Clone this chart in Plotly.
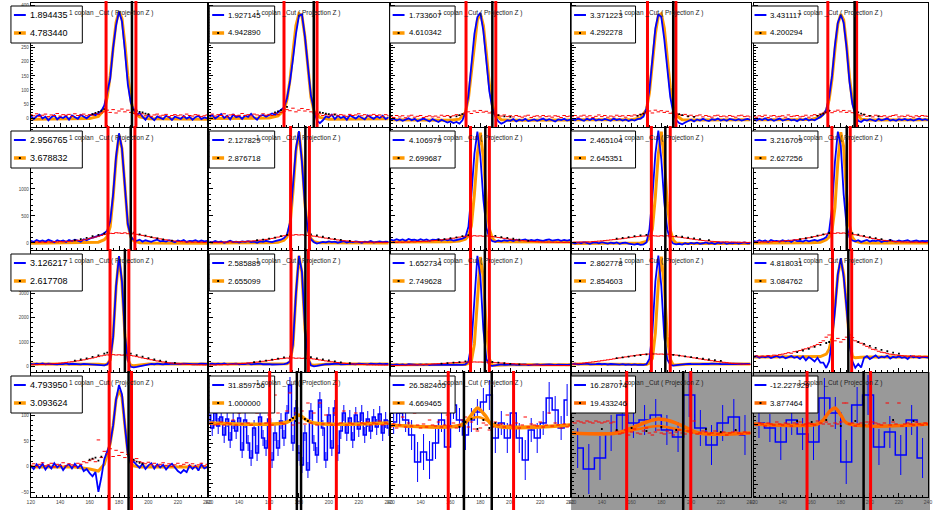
import plotly.graph_objects as go

W, H = 934, 510
FONT = "Liberation Sans, Arial, sans-serif"
TITLE = "1 coplan _Cut ( Projection Z )"

# ---------------- data ----------------
X = list(range(120, 241, 2))
OX = [120, 150, 160, 166, 170, 172, 174, 176, 178, 180, 182, 184, 186, 188, 190, 194, 200, 240]
X_TICK0, X_DTICK = 120, 20

LEG_TOP = ["1.894435", "1.927145", "1.733607", "3.371223", "3.431117",
           "2.956765", "2.127829", "4.106979", "2.465104", "3.216709",
           "3.126217", "2.585889", "1.652734", "2.862778", "4.818031",
           "4.793950", "31.859756", "26.582405", "16.287074", "-12.227929"]
LEG_BOT = ["4.783440", "4.942890", "4.610342", "4.292278", "4.200294",
           "3.678832", "2.876718", "2.699687", "2.645351", "2.627256",
           "2.617708", "2.655099", "2.749628", "2.854603", "3.084762",
           "3.093624", "1.000000", "4.669465", "19.433246", "3.877464"]

RED_LINES = [[171.2, 191.5], [170.0, 192.1], [170.4, 190.3], [170.7, 189.8], [171.1, 190.9],
             [172.5, 190.8], [174.4, 187.0], [173.4, 186.0], [173.3, 186.0], [173.9, 186.5],
             [173.9, 186.7], [174.7, 186.3], [173.4, 186.0], [173.3, 186.0], [174.3, 187.5],
             [173.3, 188.5], [160.4, 205.0], [158.5, 202.2], [156.7, 199.8], [156.8, 200.5]]
BLACK_LINES = [[188.8], [189.9], [188.0], [188.0], [189.5],
               [188.0], [184.3], [183.3], [182.7], [184.1],
               [184.0], [184.3], [183.0], [182.7], [185.2],
               [186.5], [178.6, 181.4], [169.0, 187.6], [194.7], [195.7]]

# ---- row 1 ----
blue_r1c1 = [8,-4,6,12,-2, 5,-8,3,10,-5, 4,0,7,-6,9, 2,-3,11,6,-1, 8,14,10,18,25,
             45,95,140,250,330, 380,345,240,120,55, 30,12,18,5,-6, 10,2,-8,6,0,
             -4,8,3,-7,5, 1,-3,7,-2,4, -6,3,8,-4,2, -1]
orange_r1c1 = [-4,-4,-2,6,30,75,150,250,340,380,355,265,150,65,22,4,-3,-4]
red_r1c1 = [12,8,15,6,10, 14,5,11,9,16, 7,12,10,13,6, 15,9,11,14,8, 12,10,16,13,18,
            22,28,20,30,18, 25,32,22,28,20, 16,14,10,15,8, 12,6,11,14,7,
            10,13,5,9,12, 8,11,6,14,9, 7,12,10,5,8, 11]
blackx_r1c1 = [162,164,166,168,170,190,192,194,196,198,200]
blacky_r1c1 = [14,18,22,26,32,30,26,22,20,16,14]

blue_r1c2 = [4,10,-2,6,14, 0,8,-5,12,3, 7,-3,9,4,15, 2,-6,8,11,5, 10,16,12,20,28,
             38,70,130,210,300, 365,370,290,170,80, 30,-10,-18,-8,6, 2,12,-4,8,0,
             5,-6,10,3,-2, 7,1,-5,9,4, -3,6,0,8,-4, 3]
orange_r1c2 = [-2,-2,0,8,28,65,135,235,330,372,365,290,175,75,25,2,-4,-3]
red_r1c2 = [10,14,7,12,9, 15,6,11,13,8, 10,16,9,12,7, 14,11,8,15,10, 13,9,17,12,20,
            24,30,26,35,22, 28,34,25,30,22, 18,12,15,9,13, 7,11,14,8,12,
            10,6,13,9,11, 15,8,12,7,10, 13,9,11,6,12, 8]
blackx_r1c2 = [164,166,168,170,172,192,194,196,198,200,204]
blacky_r1c2 = [20,24,28,34,40,22,20,18,16,14,12]

blue_r1c3 = [-6,-2,-9,-4,-10, -5,-1,-8,-3,-11, -6,-2,-7,-12,-4, -8,-14,-6,-10,-16, -12,-18,-14,-20,-8,
             20,80,190,300,360, 375,310,200,95,35, 5,-12,-20,-15,-8, -10,-4,-12,-6,-9,
             -3,-11,-7,-5,-10, -6,-2,-9,-4,-8, -12,-5,-7,-3,-9, -6]
orange_r1c3 = [-6,-7,-8,-4,20,70,160,270,350,372,330,230,120,45,12,-6,-8,-7]
red_r1c3 = [6,2,9,4,8, 1,7,10,3,6, 9,2,5,8,4, 7,3,10,6,9, 5,8,12,9,14,
            18,22,16,25,20, 27,21,24,18,22, 14,10,7,11,5, 8,4,9,6,3,
            7,10,2,6,8, 4,9,5,7,3, 8,6,2,9,5, 7]
blackx_r1c3 = [160,164,166,168,188,190,192,196,200]
blacky_r1c3 = [2,6,10,14,20,14,10,6,4]

blue_r1c4 = [-4,-8,-2,-6,-10, -3,-7,-1,-9,-5, -8,-3,-6,-10,-2, -7,-4,-9,-5,-11, -6,-9,-4,-2,5,
             35,100,210,320,370, 360,280,170,75,20, -8,-18,-22,-16,-10, -6,-12,-5,-9,-3,
             -8,-11,-4,-7,-2, -9,-5,-10,-3,-6, -8,-4,-9,-6,-3, -7]
orange_r1c4 = [-6,-6,-6,0,30,90,185,300,365,372,320,215,110,40,10,-6,-7,-6]
red_r1c4 = [5,9,3,7,10, 4,8,2,6,11, 5,9,3,7,4, 10,6,8,3,9, 7,11,8,13,16,
            20,25,18,28,22, 26,20,24,17,21, 15,12,9,13,7, 10,5,8,11,4,
            9,6,3,8,10, 5,7,4,9,6, 3,8,10,5,7, 4]
blackx_r1c4 = [164,166,168,170,190,192,194,198,202]
blacky_r1c4 = [8,12,16,22,18,14,10,6,4]

blue_r1c5 = [-5,-9,-3,-7,-1, -8,-4,-10,-6,-2, -9,-5,-3,-8,-6, -11,-4,-7,-2,-9, -5,-8,-3,4,12,
             30,75,150,260,340, 368,340,250,130,50, 12,-10,-14,-6,-9, -4,-7,-11,-3,-8,
             -5,-2,-9,-6,-10, -4,-7,-3,-8,-5, -9,-6,-2,-7,-4, -8]
orange_r1c5 = [-6,-6,-5,4,25,65,140,245,335,370,350,260,145,60,18,-4,-7,-6]
red_r1c5 = [6,3,8,5,10, 2,7,9,4,6, 8,3,11,5,7, 9,4,6,10,3, 8,12,9,14,17,
            21,26,19,24,28, 22,27,20,25,19, 16,11,8,13,6, 9,4,10,7,5,
            8,3,6,9,11, 4,7,5,10,6, 3,8,5,9,7, 6]
blackx_r1c5 = [164,166,168,170,172,192,194,196,200,206]
blacky_r1c5 = [8,12,16,20,26,20,16,12,8,6]

# ---- row 2 ----
blue_r2c1 = [40,20,55,30,45, 25,60,35,15,50, 30,45,20,55,35, 60,40,25,70,50, 80,95,110,130,150,
             180,230,400,900,1600, 2030,1750,950,350,120, 55,40,60,25,50, 35,20,45,60,30,
             40,25,50,35,15, 45,30,55,20,40, 35,50,25,45,30, 40]
orange_r2c1 = [-5,0,5,15,60,120,300,850,1550,2000,1750,950,350,110,40,5,0,-5]
red_r2c1 = [15,8,20,12,18, 10,22,14,25,18, 28,20,32,26,38, 42,50,45,58,70, 85,95,110,125,140,
            155,170,180,175,190, 185,178,188,172,180, 168,160,150,140,128, 118,105,95,88,76,
            65,58,50,42,36, 30,26,22,18,20, 14,18,12,16,10, 14]
blackx_r2c1 = [150,154,158,162,166,170,190,194,198,202,206,210,216]
blacky_r2c1 = [50,70,95,125,150,175,190,160,135,110,85,65,45]

blue_r2c2 = [25,10,35,15,30, 5,20,40,15,25, 10,30,20,35,15, 25,5,30,20,40, 25,15,35,45,60,
             90,150,380,1000,1750, 2070,1500,700,230,70, 15,-10,5,20,10, 30,15,25,5,20,
             35,10,25,15,30, 20,5,25,15,35, 10,20,30,15,25, 20]
orange_r2c2 = [0,0,5,15,50,110,330,950,1700,2050,1550,720,240,80,25,2,0,0]
red_r2c2 = [8,14,10,16,12, 18,14,22,16,24, 20,28,24,32,36, 40,46,52,58,66, 72,84,96,108,122,
            134,142,150,145,155, 148,152,146,140,135, 126,118,108,98,90, 80,72,64,56,48,
            42,38,32,28,24, 20,22,16,18,14, 12,16,10,14,12, 10]
blackx_r2c2 = [152,156,160,164,168,172,188,192,196,200,204,208,214]
blacky_r2c2 = [50,62,80,100,125,150,160,140,115,95,75,58,40]

blue_r2c3 = [60,45,70,50,65, 40,75,55,60,45, 70,50,65,40,60, 55,70,45,65,50, 60,45,55,70,80,
             110,300,900,1650,2060, 1600,800,280,90,35, 20,45,30,50,40, 55,35,60,45,50,
             65,40,55,45,60, 50,40,55,65,45, 50,60,40,55,45, 55]
orange_r2c3 = [20,20,25,35,70,130,320,900,1650,2040,1580,780,260,80,30,22,20,20]
red_r2c3 = [10,16,12,18,14, 20,16,24,20,28, 26,32,30,38,42, 46,52,58,64,72, 80,88,98,108,116,
            124,130,126,135,128, 132,125,130,122,118, 110,102,94,86,78, 70,62,56,50,44,
            38,34,30,26,22, 20,18,16,18,14, 16,12,14,10,12, 10]
blackx_r2c3 = [152,156,160,164,168,172,186,190,194,198,202,206,212]
blacky_r2c3 = [60,72,88,105,125,145,150,130,110,95,78,62,45]

blue_r2c4 = [5,-10,10,-5,15, 0,-15,5,10,-5, 15,0,-10,5,-5, 10,-15,0,5,-10, -20,-30,-15,-35,-25,
             10,250,850,1650,2080, 1550,750,250,60,-10, -25,-15,-30,-5,-20, 0,-10,5,-15,-5,
             10,-10,0,-20,5, -5,10,-15,0,-5, 5,-10,0,10,-5, 0]
orange_r2c4 = [-10,-10,-8,0,30,90,260,860,1650,2060,1540,740,240,55,0,-10,-10,-10]
red_r2c4 = [12,18,14,20,16, 22,20,26,30,34, 38,44,50,56,62, 68,74,80,88,96, 104,112,118,124,128,
            132,128,136,130,126, 134,128,132,124,120, 114,108,100,92,84, 76,68,60,52,46,
            40,36,30,26,24, 20,18,22,16,18, 14,16,12,14,10, 12]
blackx_r2c4 = [150,154,158,162,166,170,186,190,194,198,202,206,212]
blacky_r2c4 = [80,95,110,125,140,150,145,130,115,100,85,70,52]

blue_r2c5 = [40,25,50,30,45, 20,55,35,40,25, 50,30,45,20,55, 35,40,25,50,30, 45,55,40,60,75,
             110,220,650,1500,2060, 1800,900,320,100,45, 30,50,20,40,55, 25,45,35,50,20,
             40,30,55,35,25, 45,30,40,50,25, 35,45,30,40,35, 40]
orange_r2c5 = [0,0,5,15,60,110,230,660,1500,2050,1780,900,320,100,35,5,0,0]
red_r2c5 = [12,18,14,20,16, 24,20,28,26,34, 32,40,44,50,56, 62,70,78,86,96, 106,118,130,142,155,
            166,175,182,178,188, 180,185,176,170,162, 152,142,130,118,106, 94,84,74,64,56,
            48,42,36,30,26, 22,20,18,16,18, 14,16,12,14,10, 12]
blackx_r2c5 = [152,156,160,164,168,172,188,192,196,200,204,208,214]
blacky_r2c5 = [70,88,110,135,160,185,180,155,130,108,88,70,50]

# ---- row 3 ----
blue_r3c1 = [100,80,110,90,120, 85,105,95,115,80, 100,90,120,85,105, 95,110,80,100,90, 70,60,45,50,30,
             40,80,250,1200,3300, 4540,3500,1300,250,-20, -40,-20,10,40,70, 90,100,85,110,95,
             80,105,90,115,100, 85,95,110,90,100, 85,105,95,110,90, 100]
orange_r3c1 = [95,95,95,80,60,90,260,1250,3250,4500,3450,1300,280,40,20,60,90,95]
red_r3c1 = [60,70,65,80,75, 90,85,100,110,120, 130,145,160,175,190, 205,225,245,265,290, 315,340,370,400,430,
            455,470,460,480,465, 475,460,470,455,445, 425,400,375,345,320, 295,270,245,220,200,
            180,160,145,130,115, 105,95,90,80,75, 70,65,60,62,55, 58]
blackx_r3c1 = [150,154,158,162,166,170,172,188,192,196,200,204,208,212,218]
blacky_r3c1 = [230,280,330,390,450,520,560,520,460,400,340,280,230,190,140]

blue_r3c2 = [95,110,85,105,90, 115,80,100,95,110, 85,105,90,120,80, 100,95,110,85,100, 90,75,80,60,70,
             90,120,200,900,3000, 4550,3900,1600,350,40, 0,20,50,70,90, 85,100,95,110,80,
             100,90,105,95,85, 110,90,100,80,105, 95,90,110,85,100, 95]
orange_r3c2 = [90,90,90,85,80,100,180,850,2950,4550,3850,1550,330,60,40,70,90,90]
red_r3c2 = [50,58,55,65,62, 72,70,82,88,96, 104,114,124,136,148, 160,174,190,206,224, 242,260,280,298,315,
            328,340,332,345,330, 338,328,335,322,315, 300,282,262,242,222, 204,186,170,154,140,
            128,116,106,96,88, 82,76,70,66,62, 58,56,52,55,50, 52]
blackx_r3c2 = [150,154,158,162,166,170,174,188,192,196,200,204,208,214]
blacky_r3c2 = [170,200,235,275,320,365,400,380,330,285,240,200,165,125]

blue_r3c3 = [70,55,80,60,75, 50,85,65,70,55, 80,60,75,50,70, 65,80,55,75,60, 70,55,65,50,60,
             80,200,900,2800,4550, 3700,1500,300,40,20, 45,60,75,55,70, 65,80,55,70,60,
             75,50,70,65,80, 55,70,60,75,65, 50,70,60,75,55, 65]
orange_r3c3 = [60,60,60,60,75,130,220,920,2850,4500,3650,1480,300,50,40,55,60,60]
red_r3c3 = [30,36,32,40,38, 46,44,52,56,62, 66,72,78,84,92, 98,106,114,122,132, 140,148,156,162,168,
            172,178,170,180,174, 176,170,172,166,160, 152,144,136,128,120, 110,102,94,86,78,
            72,66,60,56,50, 46,42,40,36,38, 34,36,32,34,30, 32]
blackx_r3c3 = [154,158,162,166,170,188,192,196,200,206]
blacky_r3c3 = [110,130,150,170,200,180,150,125,100,80]

blue_r3c4 = [90,105,85,100,95, 110,80,100,90,105, 85,100,75,95,80, 90,70,85,65,80, 60,75,55,70,60,
             90,300,1400,3500,4560, 3300,1200,280,60,30, 50,70,90,80,100, 95,85,105,90,100,
             85,95,110,90,100, 95,85,100,90,105, 95,100,85,95,100, 90]
orange_r3c4 = [90,85,80,70,75,130,320,1380,3450,4520,3300,1220,290,60,50,70,90,90]
red_r3c4 = [80,95,105,120,135, 150,165,180,195,212, 230,248,266,285,305, 325,345,365,385,405, 425,445,462,478,490,
            500,505,498,510,500, 505,495,500,488,478, 462,445,425,405,385, 365,345,325,305,285,
            265,248,230,212,195, 180,165,150,135,120, 110,100,92,85,80, 75]
blackx_r3c4 = [150,154,158,162,166,170,174,188,192,196,200,204,208,212,216,220]
blacky_r3c4 = [340,370,400,430,460,490,520,470,440,410,380,345,310,280,250,220]

blue_r3c5 = [380,420,350,400,370, 410,340,390,430,360, 400,330,380,420,350, 390,300,410,250,380, 300,200,350,150,150,
             -70,200,1100,2300,3800, 4460,3700,2400,900,200, -60,100,-50,350,420, 300,380,450,340,400,
             370,430,320,390,360, 410,350,380,300,420, 370,400,340,390,380, 360]
orange_r3c5 = [380,380,390,400,500,700,1200,2400,3750,4400,3800,2450,1050,400,350,370,380,380]
red_r3c5 = [400,430,390,420,410, 440,420,460,450,480, 500,520,560,540,600, 620,650,700,720,760, 800,850,900,980,1050,
            1200,1290,1100,1050,1150, 1000,1100,1200,1290,1180, 1050,1000,950,880,820, 760,700,680,620,580,
            560,520,500,480,470, 450,440,430,420,410, 430,400,420,390,410, 400]
blackx_r3c5 = [150,154,158,162,166,170,172,188,192,196,200,204,208,212,216,220]
blacky_r3c5 = [580,650,720,800,880,960,1000,1080,1000,920,840,760,680,620,560,520]

# ---- row 4 ----
blue_r4c1 = [2,-4,5,-2,6, -5,3,-3,7,-1, 4,-6,2,5,-3, 6,-2,4,-8,-4, -12,-18,-10,-48,-20,
             15,30,45,80,130, 158,140,80,25,8, 10,4,-2,6,-4, 3,7,-3,5,-1,
             4,-5,2,6,-2, -8,-12,-6,-10,3, -4,2,-7,5,-3, 0]
orange_r4c1 = [0,0,-4,-8,5,25,45,80,130,148,135,80,28,8,2,0,0,0]
red_r4c1 = [3,6,1,5,8, 2,4,7,0,5, 3,8,2,6,4, 1,7,5,10,8, 12,15,10,52,18,
            30,25,35,20,32, 22,28,18,24,15, 12,16,10,8,6, 9,4,7,2,5,
            8,3,6,1,4, 7,2,5,8,3, 6,1,4,7,2, 5]
blackx_r4c1 = [160,162,164,166,168,188,190,192,194,196]
blacky_r4c1 = [14,16,18,12,20,12,14,10,8,6]

blue_r4c2 = [8,-5,10,-3,6,-12,4,-17,2, -8,5,-27,3,-20,-35,-5, -30,6,-15,-25,4,-37,-10,-25,2,
             -15,10,38,-20,15,-30, -42,-10,-47,12,-20, -32,23,-5,-37,8,-25,15,-30,-8,10,
             -10,5,-17,8,-6,10,-12,4,-8,6,-4,9,-10,3,-5]
orange_x_r4c2 = [120, 170, 176, 180, 184, 190, 240]
orange_r4c2 = [0, 0, 4, 8, 4, 0, 0]
red_r4c2 = [-1,0,-2,-1,1,-2,0,-1,3,-2, 10,-1,12,0,-2,35,10,-1,12,0, 8,-2,28,10,0,-1,12,30,-2,10,
            0,12,-1,20,0,10,-2,20,-1,8, 0,-2,10,-1,0,12,-2,0,-1,10, -2,0,-1,1,-2,0,-1,2,-2,0, -1]
blackx_r4c2 = [174, 176, 178, 184, 186]
blacky_r4c2 = [3, 5, 2, 4, 2]

bins_r4c3 = list(range(122, 239, 4))
blue_r4c3 = [3,12,5,-10,-37,-27,-35,-18,5,-22, 20,5,-10,5,13,23,30,-13,2,-13,
             12,-13,-35,-5,-13,2,27,15,-3,25]
err_r4c3 = [12,14,12,15,20,18,19,16,12,17, 14,12,15,12,13,14,15,15,12,15,
            13,15,20,12,15,12,16,14,12,16]
orange_x_r4c3a = [120, 168, 172, 176, 178, 180, 184, 188, 240]
orange_r4c3a = [0, 0, 6, 14, 17, 15, 8, 0, 0]
orange_x_r4c3b = [120, 166, 172, 178, 184, 190, 240]
orange_r4c3b = [0, 0, 5, 8, 5, 0, 0]
red_r4c3 = [-2,1,-3,0,8,-2,2,-1,12,0, -3,1,-2,5,0,-1,3,-2,0,10, -1,2,-3,0,5,8,-2,3,-4,-6,
            -3,2,0,-5,-2,3,0,1,-2,10, 0,-1,2,-3,0,8,-2,1,0,-1, 3,-2,0,12,-1,2,0,-3,1,-2, 0]
blackx_r4c3 = [166, 170, 174, 178, 182, 186, 190]
blacky_r4c3 = [-2, 3, 6, -4, 5, -3, 2]

bins_wide = [123.75, 131.25, 138.75, 146.25, 153.75, 161.25, 168.75, 176.25,
             183.75, 191.25, 198.75, 206.25, 213.75, 221.25, 228.75, 236.25]
blue_r4c4 = [-15,-36,-25,0,18,10,13,18,3,-4,38,5,-12,10,16,-2]
err_r4c4 = [20,25,22,18,18,15,15,16,15,15,22,18,20,18,18,20]
orange_x_r4c4a = [120, 150, 160, 170, 178, 186, 196, 205, 240]
orange_r4c4a = [0, 0, 5, 11, 14, 12, 6, 0, 0]
orange_x_r4c4b = [120, 150, 165, 178, 190, 205, 240]
orange_r4c4b = [0, 0, 4, 7, 4, 0, 0]
red_r4c4 = [11,10,12,11,10, 12,11,10,12,11, 10,11,12,10,11, 2,-1,0,3,-2, 1,4,0,-1,2,
            5,0,-2,1,3, 0,-1,2,0,-2, 1,3,0,-1,2, 0,12,-1,0,2, 1,-1,0,2,-1,
            0,1,-2,0,1, 2,0,-1,1,0, 0]
blackx_r4c4 = [140, 150, 160, 170, 180, 190, 200, 210, 220, 230]
blacky_r4c4 = [4, 3, 5, 2, 6, 3, 2, 4, 1, 3]

blue_r4c5 = [1,-4,-18,4,-10,-18,26,11,-38,19,29,-23,-8,-31,4,-34]
err_r4c5 = [15,14,18,15,16,18,20,16,22,18,20,18,16,20,15,20]
orange_x_r4c5 = [120, 164, 168, 172, 176, 180, 184, 240]
orange_r4c5 = [0, 0, 4, 12, 16, 9, 1, 0]
red_r4c5 = [0,-1,1,0,-2, 1,0,-1,2,0, -1,1,0,-2,1, 0,2,-1,0,1, 0,-1,3,1,0,
            2,0,-2,1,0, 2,21,21,0,1, -2,0,1,-1,2, 0,2,1,0,-1, 1,21,-1,2,0,
            21,-2,0,1,0, -1,2,0,-1,1, 0]
blackx_r4c5 = [150, 160, 170, 180, 190, 200, 216, 230]
blacky_r4c5 = [3, 2, 4, -2, 3, 2, 4, 3]

# ---------------- panel table built from the lists ----------------
def clean(b, o, r, kx, ky):
    assert len(b) == len(X) and len(r) == len(X) and len(o) == len(OX), (len(b), len(r), len(o))
    return dict(kind="clean", blue=b, orange=o, red=r, kx=kx, ky=ky)

def noisy(bx, by, err, oranges, r, kx, ky, ocol):
    assert len(bx) == len(by) and len(r) == len(X)
    return dict(kind="noisy", bx=bx, by=by, err=err, oranges=oranges, red=r, kx=kx, ky=ky, ocol=ocol)

PANELS = [
    clean(blue_r1c1, orange_r1c1, red_r1c1, blackx_r1c1, blacky_r1c1),
    clean(blue_r1c2, orange_r1c2, red_r1c2, blackx_r1c2, blacky_r1c2),
    clean(blue_r1c3, orange_r1c3, red_r1c3, blackx_r1c3, blacky_r1c3),
    clean(blue_r1c4, orange_r1c4, red_r1c4, blackx_r1c4, blacky_r1c4),
    clean(blue_r1c5, orange_r1c5, red_r1c5, blackx_r1c5, blacky_r1c5),
    clean(blue_r2c1, orange_r2c1, red_r2c1, blackx_r2c1, blacky_r2c1),
    clean(blue_r2c2, orange_r2c2, red_r2c2, blackx_r2c2, blacky_r2c2),
    clean(blue_r2c3, orange_r2c3, red_r2c3, blackx_r2c3, blacky_r2c3),
    clean(blue_r2c4, orange_r2c4, red_r2c4, blackx_r2c4, blacky_r2c4),
    clean(blue_r2c5, orange_r2c5, red_r2c5, blackx_r2c5, blacky_r2c5),
    clean(blue_r3c1, orange_r3c1, red_r3c1, blackx_r3c1, blacky_r3c1),
    clean(blue_r3c2, orange_r3c2, red_r3c2, blackx_r3c2, blacky_r3c2),
    clean(blue_r3c3, orange_r3c3, red_r3c3, blackx_r3c3, blacky_r3c3),
    clean(blue_r3c4, orange_r3c4, red_r3c4, blackx_r3c4, blacky_r3c4),
    clean(blue_r3c5, orange_r3c5, red_r3c5, blackx_r3c5, blacky_r3c5),
    clean(blue_r4c1, orange_r4c1, red_r4c1, blackx_r4c1, blacky_r4c1),
    noisy(X, blue_r4c2, None, [(orange_x_r4c2, orange_r4c2, 3.5)], red_r4c2, blackx_r4c2, blacky_r4c2, "#ff9900"),
    noisy(bins_r4c3, blue_r4c3, err_r4c3, [(orange_x_r4c3b, orange_r4c3b, 2.5), (orange_x_r4c3a, orange_r4c3a, 3.5)],
          red_r4c3, blackx_r4c3, blacky_r4c3, "#ff8c00"),
    noisy(bins_wide, blue_r4c4, err_r4c4, [(orange_x_r4c4b, orange_r4c4b, 2.5), (orange_x_r4c4a, orange_r4c4a, 3.5)],
          red_r4c4, blackx_r4c4, blacky_r4c4, "#ff6a00"),
    noisy(bins_wide, blue_r4c5, err_r4c5, [(orange_x_r4c5, orange_r4c5, 3.5)],
          red_r4c5, blackx_r4c5, blacky_r4c5, "#ff6a00"),
]

# ---------------- layout geometry (pixels) ----------------
COLS = [(27, 205), (207, 388), (390, 571), (573, 753), (756, 932)]
ROWS = [(3, 127), (128, 250), (251, 372), (373, 497)]
LEG_BOX = [(7, 72), (207, 66), (389, 66), (572, 65), (754, 67)]
TITLE_X = [108, 297.5, 480.5, 663, 844]
Y_RANGES = [[-32, 410]] * 5 + [[-130, 2128]] * 5 + [[-235, 4750]] * 5 + \
           [[-58, 181], [-74, 50], [-72, 52], [-64, 60], [-73, 51]]
Y_DTICKS = [50] * 5 + [500] * 5 + [1000] * 5 + [50, 20, 20, 20, 20]

def px(x):
    return x / W

def py(y):
    return 1 - y / H

fig = go.Figure()
layout = dict(width=W, height=H, autosize=False, margin=dict(l=0, r=0, t=0, b=0),
              paper_bgcolor="white", plot_bgcolor="rgba(0,0,0,0)", showlegend=False,
              font=dict(family=FONT))
shapes = []
annotations = []

# gray pads (row 4, columns 4 and 5)
shapes.append(dict(type="rect", xref="paper", yref="paper", x0=px(572), x1=1, y0=0, y1=py(372),
                   fillcolor="#999999", line=dict(width=0), layer="below"))

vlines = []
for i, p in enumerate(PANELS):
    r, c = divmod(i, 5)
    n = i + 1
    sfx = "" if n == 1 else str(n)
    xr, yr = "x" + sfx, "y" + sfx
    x0, x1 = COLS[c]
    yt, yb = ROWS[r]

    layout["xaxis" + sfx] = dict(
        domain=[px(x0), px(x1)], range=[120, 240], anchor=yr,
        showline=True, mirror=True, linecolor="black", linewidth=1,
        ticks="inside", ticklen=4, tickwidth=0.8, tickcolor="black",
        tick0=X_TICK0, dtick=X_DTICK,
        minor=dict(ticks="inside", ticklen=2, tickcolor="black", dtick=4, tick0=120),
        showticklabels=(r == 3), tickfont=dict(size=5, color="#444", family=FONT),
        showgrid=False, zeroline=False, fixedrange=True)
    layout["yaxis" + sfx] = dict(
        domain=[py(yb), py(yt)], range=Y_RANGES[i], anchor=xr,
        showline=True, mirror=True, linecolor="black", linewidth=1,
        ticks="inside", ticklen=4, tickwidth=0.8, tickcolor="black",
        tick0=0, dtick=Y_DTICKS[i],
        minor=dict(ticks="inside", ticklen=2, tickcolor="black", dtick=Y_DTICKS[i] / 5),
        showticklabels=(c == 0), tickfont=dict(size=4.5, color="#444", family=FONT),
        showgrid=False, zeroline=False, fixedrange=True)

    common = dict(xaxis=xr, yaxis=yr, hoverinfo="skip")
    if p["kind"] == "clean":
        fig.add_trace(go.Scatter(x=OX, y=p["orange"], mode="lines",
                                 line=dict(color="#ff9900", width=3), **common))
        fig.add_trace(go.Scatter(x=X, y=p["blue"], mode="lines",
                                 line=dict(color="#0000ff", width=1.8), **common))
    else:
        err = dict(type="data", array=p["err"], color="#0000ff", thickness=1, width=0) \
            if p["err"] is not None else dict(type="constant", value=8, color="#0000ff", thickness=1, width=0)
        fig.add_trace(go.Scatter(x=p["bx"], y=p["by"], mode="lines", line_shape="hvh",
                                 line=dict(color="#0000ff", width=1.5), error_y=err, **common))
        for ox, oy, wdt in p["oranges"]:
            fig.add_trace(go.Scatter(x=ox, y=oy, mode="lines", line_shape="spline",
                                     line=dict(color=p["ocol"], width=wdt), **common))
    fig.add_trace(go.Scatter(x=X, y=p["red"], mode="markers",
                             marker=dict(symbol="line-ew", size=2.5, line=dict(color="red", width=1)),
                             **common))
    fig.add_trace(go.Scatter(x=p["kx"], y=p["ky"], mode="markers",
                             marker=dict(symbol="square", size=1.8, color="black"), **common))

    # legend box
    bl, bw = LEG_BOX[c]
    ocol = "#ff9900" if p["kind"] == "clean" else p["ocol"]
    shapes.append(dict(type="rect", xref="paper", yref="paper", x0=px(bl), x1=px(bl + bw),
                       y0=py(yt + 40), y1=py(yt + 3), fillcolor="white",
                       line=dict(color="black", width=1), layer="above"))
    shapes.append(dict(type="line", xref="paper", yref="paper", x0=px(bl + 3), x1=px(bl + 15),
                       y0=py(yt + 12), y1=py(yt + 12), line=dict(color="#0000ff", width=2), layer="above"))
    shapes.append(dict(type="line", xref="paper", yref="paper", x0=px(bl + 3), x1=px(bl + 15),
                       y0=py(yt + 30), y1=py(yt + 30), line=dict(color=ocol, width=3.5), layer="above"))
    shapes.append(dict(type="rect", xref="paper", yref="paper", x0=px(bl + 8), x1=px(bl + 10),
                       y0=py(yt + 31), y1=py(yt + 29), fillcolor="black",
                       line=dict(width=0), layer="above"))
    fs = 9 if c == 0 else 7.8
    annotations.append(dict(xref="paper", yref="paper", x=px(bl + 17), y=py(yt + 12),
                            xanchor="left", yanchor="middle", showarrow=False, text=LEG_TOP[i],
                            font=dict(size=fs, color="black", family=FONT)))
    annotations.append(dict(xref="paper", yref="paper", x=px(bl + 17), y=py(yt + 30),
                            xanchor="left", yanchor="middle", showarrow=False, text=LEG_BOT[i],
                            font=dict(size=fs, color="black", family=FONT)))
    annotations.append(dict(xref="paper", yref="paper", x=px(TITLE_X[c]), y=py(yt + 10),
                            xanchor="center", yanchor="middle", showarrow=False, text=TITLE,
                            font=dict(size=6.5, color="#222", family=FONT)))

    # vertical cut lines
    ybot = 510 if r == 3 else yb
    ytop = yt - 2
    for v in RED_LINES[i]:
        vlines.append(dict(type="line", xref=xr, yref="paper", x0=v, x1=v, y0=py(ybot), y1=py(ytop),
                           line=dict(color="#ff0000", width=3), layer="above"))
    for v in BLACK_LINES[i]:
        vlines.append(dict(type="line", xref=xr, yref="paper", x0=v, x1=v, y0=py(ybot), y1=py(ytop),
                           line=dict(color="black", width=2.5), layer="above"))

layout["shapes"] = shapes + vlines
layout["annotations"] = annotations
fig.update_layout(**layout)
fig.write_html("out.html")
